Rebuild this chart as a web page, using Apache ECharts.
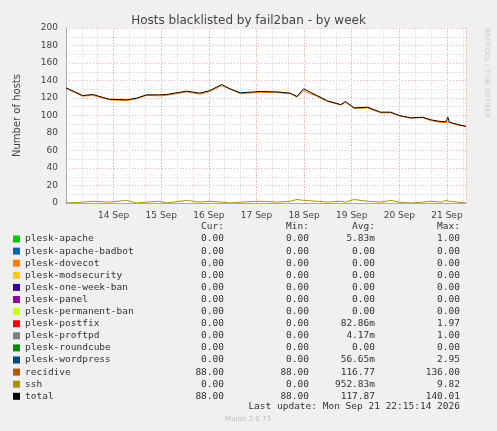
<!DOCTYPE html><html><head><meta charset="utf-8"><script src="https://cdn.jsdelivr.net/npm/echarts@6/dist/echarts.min.js"></script>
<style>body{margin:0;background:#f0f0f0}#c{width:497px;height:431px}</style></head><body><div id="c"></div><script>
const days=[13.00,13.35,13.56,13.91,14.27,14.48,14.69,14.97,15.11,15.53,15.81,16.02,16.27,16.45,16.66,17.08,17.43,17.71,17.85,17.99,18.27,18.49,18.77,18.87,19.05,19.33,19.61,19.82,20.00,20.24,20.49,20.67,20.88,20.98,21.02,21.05,21.23,21.40];
const total=[131.6,122.8,124,118.6,117.9,119.8,123.6,123.6,124,127.8,125.5,128.5,135.4,130.4,125.9,127.4,127,125.5,121.7,130.4,122.8,116.7,112.5,116,108.7,109.5,103.8,103.8,100,97.3,98,95,93,93,98,92.4,89.7,87.5];
const recidive=[131,122,123,118,117,119,123,122.5,123,127,124.5,127.5,134,130,125,126.5,126,125,121,128,122,116,112,115,108,108.5,103,103,99.5,97,97.5,94,92,92,92.5,92,89,87.5];
const ssh=[0,1,2,1,3,0,1,2,0,3,1,2,1,0,1,2,1,2,4,3,2,1,2,1,4,2,1,3,1,0,1,2,1,3,4,2,1,0];
const legendRows=[["plesk-apache","#00cc00","0.00","0.00","5.83m","1.00"],["plesk-apache-badbot","#0066b3","0.00","0.00","0.00","0.00"],["plesk-dovecot","#ff8000","0.00","0.00","0.00","0.00"],["plesk-modsecurity","#ffcc00","0.00","0.00","0.00","0.00"],["plesk-one-week-ban","#330099","0.00","0.00","0.00","0.00"],["plesk-panel","#990099","0.00","0.00","0.00","0.00"],["plesk-permanent-ban","#ccff00","0.00","0.00","0.00","0.00"],["plesk-postfix","#ff0000","0.00","0.00","82.86m","1.97"],["plesk-proftpd","#808080","0.00","0.00","4.17m","1.00"],["plesk-roundcube","#008f00","0.00","0.00","0.00","0.00"],["plesk-wordpress","#00487d","0.00","0.00","56.65m","2.95"],["recidive","#b35a00","88.00","88.00","116.77","136.00"],["ssh","#b38f00","0.00","0.00","952.83m","9.82"],["total","#000000","88.00","88.00","117.87","140.01"]];
const F='DejaVu Sans Mono',fs=9.5;
const g=[];
[["Cur:",224],["Min:",309],["Avg:",375],["Max:",460]].forEach(h=>g.push({type:'text',style:{text:h[0],x:h[1],y:227,align:'right',verticalAlign:'middle',font:fs+'px '+F,fill:'#333'}}));
legendRows.forEach((r,i)=>{const y=239+i*12.1;
g.push({type:'rect',shape:{x:13,y:y-3.5,width:7,height:7},style:{fill:r[1]}});
g.push({type:'text',style:{text:r[0],x:25,y:y,verticalAlign:'middle',font:fs+'px '+F,fill:'#333'}});
[224,309,375,460].forEach((x,j)=>g.push({type:'text',style:{text:r[2+j],x:x,y:y,align:'right',verticalAlign:'middle',font:fs+'px '+F,fill:'#333'}}));});
g.push({type:'text',style:{text:'Last update: Mon Sep 21 22:15:14 2026',x:460,y:407,align:'right',verticalAlign:'middle',font:fs+'px '+F,fill:'#333'}});
g.push({type:'text',style:{text:'Munin 2.0.73',x:248,y:419,align:'center',verticalAlign:'middle',font:'7px DejaVu Sans',fill:'#bbb'}});
g.push({type:'text',rotation:-Math.PI/2,x:487,y:28,style:{text:'RRDTOOL / TOBI OETIKER',x:0,y:0,verticalAlign:'middle',font:'7px DejaVu Sans',fill:'#ccc'}});
const mk=(a)=>days.map((d,i)=>[d,a[i]]);
const c=echarts.init(document.getElementById('c'));
c.setOption({backgroundColor:'#f0f0f0',animation:false,
title:{text:'Hosts blacklisted by fail2ban - by week',left:'center',top:10,textStyle:{fontFamily:'DejaVu Sans',fontSize:12,fontWeight:'normal',color:'#444'}},
grid:{left:66,top:28,width:400,height:175,backgroundColor:'#fff',show:true,borderWidth:0},
xAxis:[{type:'value',min:13,max:21.4,interval:1/3,axisLine:{lineStyle:{color:'#aaa'}},axisTick:{show:false},splitLine:{show:true,lineStyle:{color:'#ddd',type:[1,1]}},axisLabel:{color:'#444',fontFamily:'DejaVu Sans',fontSize:9,showMaxLabel:false,formatter:v=>Math.abs(v-Math.round(v))<1e-6&&Math.round(v)>13?Math.round(v)+' Sep':''}},
{type:'value',min:13,max:21.4,interval:1,position:'bottom',axisLine:{show:false},axisTick:{show:false},axisLabel:{show:false},splitLine:{show:true,lineStyle:{color:'#f2b0b0',type:[1,2]}}}],
yAxis:{type:'value',min:0,max:200,interval:20,name:'Number of hosts',nameLocation:'middle',nameGap:44,nameTextStyle:{fontFamily:'DejaVu Sans',fontSize:10,color:'#444'},axisLine:{show:true,lineStyle:{color:'#aaa'}},axisTick:{show:false},axisLabel:{color:'#444',fontFamily:'DejaVu Sans',fontSize:9},splitLine:{lineStyle:{color:'#f2b0b0',type:[1,2]}},minorTick:{show:false,splitNumber:2},minorSplitLine:{show:true,lineStyle:{color:'#ddd',type:[1,1]}}},
graphic:g,
series:[{type:'line',data:mk(ssh),showSymbol:false,lineStyle:{color:'#b38f00',width:1},z:2},
{type:'line',data:mk(recidive),showSymbol:false,lineStyle:{color:'#ff8000',width:1},z:3},
{type:'line',data:mk(total),showSymbol:false,lineStyle:{color:'#000',width:1},z:4}]});
</script></body></html>
